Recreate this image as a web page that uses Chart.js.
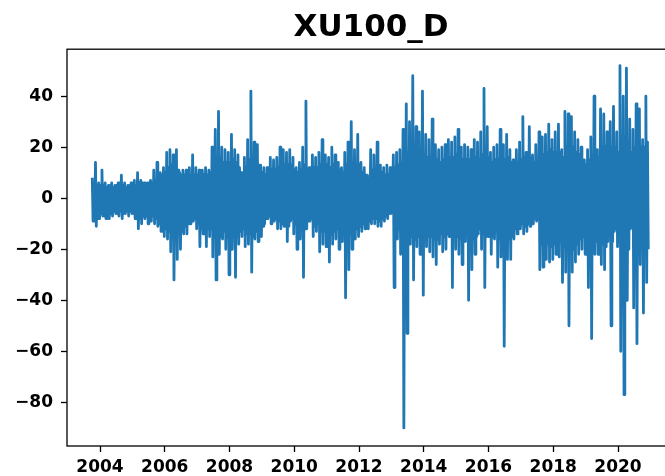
<!DOCTYPE html>
<html>
<head>
<meta charset="utf-8">
<script src="https://cdn.jsdelivr.net/npm/chart.js@4/dist/chart.umd.min.js"></script>
<style>
  html, body { margin: 0; padding: 0; background: #fff; overflow: hidden; }
  canvas { display: block; }
</style>
</head>
<body>
<canvas id="c" width="675" height="476" style="width:675px;height:476px"></canvas>
<script>
// Daily change of the BIST 100 index (XU100), sampled as alternating highs and lows
const chartTitle = 'XU100_D';
const firstYear = 2003.76;   // first sample, as a decimal year
const stepYears = 0.025;     // spacing between samples, in years

const changes = [
  // 2003.76 - 2004.74
  8, -9, 6, -7, 14, -11, 5, -8, 6, -8, 5, -6, 11, -7, 5, -7, 6, -8, 4, -6,
  5, -8, 5, -6, 6, -7, 4, -5, 5, -6, 5, -6, 6, -7, 5, -5, 9, -8, 5, -6,
  // 2004.76 - 2005.74
  6, -6, 4, -5, 5, -7, 5, -5, 6, -6, 5, -6, 7, -8, 5, -7, 10, -12, 6, -8,
  7, -10, 6, -7, 6, -8, 5, -7, 6, -10, 6, -8, 7, -9, 6, -7, 11, -10, 7, -8,
  // 2005.76 - 2006.74
  14, -11, 8, -10, 10, -13, 9, -10, 12, -15, 10, -12, 18, -16, 12, -13, 19, -21, 13, -15,
  17, -32, 12, -16, 19, -24, 11, -14, 10, -20, 9, -13, 11, -14, 9, -11, 11, -14, 8, -10,
  // 2006.76 - 2007.74
  12, -10, 9, -8, 17, -9, 9, -8, 12, -12, 9, -10, 11, -19, 9, -12, 11, -14, 9, -11,
  12, -19, 9, -12, 11, -15, 10, -12, 20, -23, 13, -15, 27, -32, 15, -17, 34, -22, 16, -15,
  // 2007.76 - 2008.74
  20, -16, 14, -13, 19, -20, 14, -15, 18, -30, 14, -16, 25, -20, 15, -15, 19, -31, 14, -15,
  17, -18, 12, -13, 10, -15, 9, -12, 16, -19, 12, -14, 23, -18, 15, -14, 42, -29, 16, -15,
  // 2008.76 - 2009.74
  22, -16, 15, -13, 21, -17, 13, -12, 13, -15, 10, -11, 12, -10, 9, -8, 12, -8, 9, -7,
  16, -10, 11, -8, 15, -9, 11, -8, 16, -12, 12, -9, 20, -12, 13, -10, 19, -11, 13, -9,
  // 2009.76 - 2010.74
  18, -17, 13, -11, 19, -9, 13, -8, 16, -14, 11, -10, 12, -20, 10, -12, 14, -16, 11, -11,
  20, -31, 13, -12, 38, -12, 11, -9, 12, -9, 10, -8, 17, -15, 12, -11, 16, -13, 12, -10,
  // 2010.76 - 2011.74
  18, -21, 13, -13, 23, -18, 14, -13, 17, -19, 13, -13, 16, -25, 12, -14, 20, -18, 13, -13,
  17, -16, 12, -12, 14, -20, 11, -13, 12, -17, 10, -12, 18, -39, 13, -14, 22, -28, 14, -14,
  // 2011.76 - 2012.74
  30, -20, 14, -13, 19, -16, 13, -12, 25, -15, 13, -11, 14, -13, 10, -10, 12, -12, 9, -9,
  9, -12, 8, -9, 19, -10, 11, -8, 17, -10, 11, -8, 22, -11, 11, -9, 13, -11, 10, -8,
  // 2012.76 - 2013.74
  12, -9, 9, -7, 13, -8, 9, -6, 12, -6, 9, -5, 17, -35, 12, -12, 18, -16, 13, -12,
  19, -22, 14, -14, 27, -90, 16, -15, 37, -53, 18, -16, 30, -18, 18, -15, 48, -32, 18, -16,
  // 2013.76 - 2014.74
  28, -19, 18, -15, 26, -22, 17, -16, 42, -38, 17, -16, 25, -19, 16, -15, 23, -21, 16, -15,
  31, -23, 16, -16, 21, -26, 15, -16, 19, -18, 14, -14, 20, -21, 15, -15, 21, -20, 15, -14,
  // 2014.76 - 2015.74
  23, -15, 16, -13, 22, -35, 16, -15, 24, -20, 17, -15, 27, -22, 16, -16, 20, -26, 15, -16,
  21, -17, 15, -14, 20, -40, 15, -16, 19, -28, 15, -16, 23, -22, 16, -15, 22, -14, 15, -12,
  // 2015.76 - 2016.74
  26, -20, 17, -14, 43, -35, 18, -15, 28, -15, 16, -13, 18, -22, 14, -15, 20, -16, 15, -13,
  21, -27, 15, -16, 27, -23, 16, -16, 21, -58, 15, -16, 25, -24, 16, -16, 19, -24, 14, -15,
  // 2016.76 - 2017.74
  15, -16, 12, -12, 19, -14, 14, -11, 22, -12, 15, -10, 32, -14, 16, -11, 18, -13, 14, -10,
  28, -11, 16, -9, 17, -10, 14, -8, 21, -9, 15, -8, 26, -28, 17, -18, 24, -27, 17, -18,
  // 2017.76 - 2018.74
  25, -24, 18, -18, 29, -25, 19, -19, 23, -24, 18, -18, 26, -22, 18, -17, 29, -23, 18, -17,
  19, -33, 16, -19, 34, -29, 20, -20, 33, -50, 21, -20, 32, -29, 20, -20, 26, -25, 18, -18,
  // 2018.76 - 2019.74
  23, -22, 17, -16, 20, -20, 15, -15, 15, -22, 13, -16, 19, -35, 15, -17, 24, -55, 17, -18,
  40, -22, 18, -17, 19, -22, 16, -16, 35, -26, 20, -18, 33, -28, 20, -19, 26, -17, 18, -14,
  // 2019.76 - 2020.74
  30, -50, 20, -17, 36, -13, 20, -12, 26, -19, 18, -15, 52, -60, 22, -22, 40, -77, 24, -24,
  51, -40, 22, -20, 31, -12, 18, -11, 27, -43, 20, -20, 37, -57, 22, -22, 35, -26, 20, -18,
  // 2020.76 - 2020.94
  23, -45, 20, -20, 40, -33, 22, -20
];

const xTicks = [2004, 2006, 2008, 2010, 2012, 2014, 2016, 2018, 2020];
const yTicks = [-80, -60, -40, -20, 0, 20, 40];
const xRange = [2002.98, 2021.76];
const yRange = [-97.1, 58.4];

const points = changes.map((v, i) => ({ x: firstYear + i * stepYears, y: v }));

const tickFont = { family: 'DejaVu Sans', size: 17, weight: 'bold' };
const axisGrid = {
  display: true,
  drawOnChartArea: false,
  drawTicks: true,
  tickLength: 6,
  tickColor: '#000',
  tickWidth: 1.3
};

// Box around the plotting area
const frame = {
  id: 'frame',
  afterDraw(chart) {
    const { ctx, chartArea: a } = chart;
    ctx.save();
    ctx.strokeStyle = '#000';
    ctx.lineWidth = 1.3;
    ctx.strokeRect(a.left, a.top, a.right - a.left, a.bottom - a.top);
    ctx.restore();
  }
};

new Chart(document.getElementById('c'), {
  type: 'line',
  data: {
    datasets: [{
      data: points,
      borderColor: '#1f77b4',
      borderWidth: 2.8,
      pointRadius: 0,
      tension: 0,
      fill: false,
      borderJoinStyle: 'round',
      borderCapStyle: 'butt'
    }]
  },
  options: {
    responsive: false,
    animation: false,
    devicePixelRatio: 1,
    layout: { padding: 0 },
    plugins: {
      legend: { display: false },
      tooltip: { enabled: false },
      title: {
        display: true,
        text: chartTitle,
        fullSize: false,
        color: '#000',
        font: { family: 'DejaVu Sans', size: 31, weight: 'bold' },
        padding: { top: 9, bottom: 3 }
      }
    },
    scales: {
      x: {
        type: 'linear',
        min: xRange[0],
        max: xRange[1],
        afterFit(s) { s.height = 30; },
        afterBuildTicks(s) { s.ticks = xTicks.map(v => ({ value: v })); },
        grid: axisGrid,
        border: { display: false },
        ticks: {
          font: tickFont, color: '#000', padding: 5,
          maxRotation: 0, autoSkip: false,
          callback: v => String(v)
        }
      },
      y: {
        type: 'linear',
        min: yRange[0],
        max: yRange[1],
        afterFit(s) { s.width = 67; },
        afterBuildTicks(s) { s.ticks = yTicks.map(v => ({ value: v })); },
        grid: axisGrid,
        border: { display: false },
        ticks: {
          font: tickFont, color: '#000', padding: 8,
          callback: v => String(v).replace('-', '\u2212')
        }
      }
    }
  },
  plugins: [frame]
});
</script>
</body>
</html>
